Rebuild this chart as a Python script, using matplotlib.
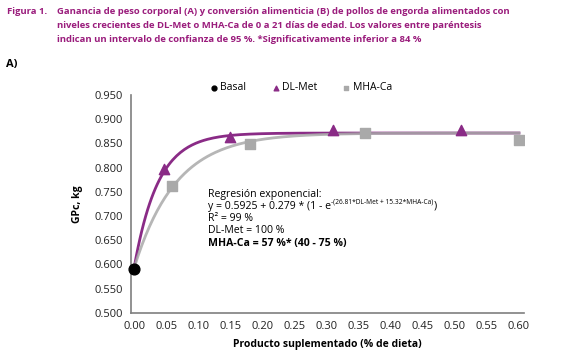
import numpy as np
import matplotlib.pyplot as plt

plt.rcParams['font.family'] = ['Open Sans', 'DejaVu Sans']

# observed points
basal_x = [0.0]
basal_y = [0.590]
dlmet_x = [0.046, 0.15, 0.31, 0.51]
dlmet_y = [0.797, 0.863, 0.878, 0.878]
mha_x = [0.059, 0.18, 0.36, 0.60]
mha_y = [0.762, 0.849, 0.872, 0.857]

# regression shown on the chart
intercept = 0.5925
plateau = 0.279
rate_dlmet = 26.81
rate_mha = 15.32

purple = '#8A2B86'
grey = '#A9A9A9'
title_col = '#9A1C7C'

fig = plt.figure(figsize=(5.74, 3.60), dpi=100)
ax = fig.add_axes([0.228, 0.131, 0.685, 0.605])

xs = np.linspace(0, 0.60, 200)
ax.plot(xs, intercept + plateau * (1 - np.exp(-rate_dlmet * xs)), color=purple, lw=2.0, zorder=2)
ax.plot(xs, intercept + plateau * (1 - np.exp(-rate_mha * xs)), color=grey, lw=2.0, alpha=0.85, zorder=3)

ax.scatter(dlmet_x, dlmet_y, marker='^', s=55, color=purple, zorder=4, label='DL-Met')
ax.scatter(mha_x, mha_y, marker='s', s=50, color=grey, zorder=4, label='MHA-Ca')
ax.scatter(basal_x, basal_y, marker='o', s=60, color='black', zorder=5, label='Basal', clip_on=False)

ax.set_xlim(-0.005, 0.608)
ax.set_ylim(0.5, 0.95)
ax.set_xticks(np.arange(0, 0.601, 0.05))
ax.set_xticklabels([f'{v:.2f}' for v in np.arange(0, 0.601, 0.05)])
ax.set_yticks(np.arange(0.5, 0.951, 0.05))
ax.set_yticklabels([f'{v:.3f}' for v in np.arange(0.5, 0.951, 0.05)])
ax.tick_params(length=0, labelsize=8, colors='#222222', pad=6)
for s in ['top', 'right']:
    ax.spines[s].set_visible(False)
for s in ['left', 'bottom']:
    ax.spines[s].set_color('#7F7F7F')
    ax.spines[s].set_linewidth(1.2)
ax.set_xlabel('Producto suplementado (% de dieta)', fontsize=7.5, fontweight='bold', labelpad=5)
ax.set_ylabel('GPc, kg', fontsize=7.5, fontweight='bold', labelpad=8)

handles, labels = ax.get_legend_handles_labels()
order = [2, 0, 1]
leg = fig.legend([handles[i] for i in order], [labels[i] for i in order], ncol=3,
                 loc='center left', bbox_to_anchor=(209 / 574, 1 - 88 / 360), frameon=False,
                 fontsize=7.5, handlelength=1.0, handletextpad=0.1, columnspacing=2.3,
                 markerscale=0.45, borderpad=0, borderaxespad=0)

# regression text
tx, ty = 208 / 574, 1 - 194 / 360
lh = 12.3 / 360
fs = 7.6
fig.text(tx, ty, 'Regresión exponencial:', fontsize=fs, va='center')
t1 = fig.text(tx, ty - lh, 'y = 0.5925 + 0.279 * (1 - e', fontsize=fs, va='center')
t2 = ax.annotate('-(26.81*DL-Met + 15.32*MHA-Ca)', xy=(1.0, 0.55), xycoords=t1,
                 fontsize=4.8, va='bottom', ha='left', annotation_clip=False)
ax.annotate(')', xy=(1.0, 0.5), xycoords=(t2, t1), fontsize=fs, va='center', ha='left',
            annotation_clip=False)
fig.text(tx, ty - 2 * lh, 'R² = 99 %', fontsize=fs, va='center')
fig.text(tx, ty - 3 * lh, 'DL-Met = 100 %', fontsize=fs, va='center')
fig.text(tx, ty - 4 * lh, 'MHA-Ca = 57 %* (40 - 75 %)', fontsize=fs, va='center', fontweight='bold')

# caption
fig.text(7 / 574, 1 - 12 / 360, 'Figura 1.', fontsize=6.8, fontweight='bold', color=title_col, va='center')
caption = ['Ganancia de peso corporal (A) y conversión alimenticia (B) de pollos de engorda alimentados con',
           'niveles crecientes de DL-Met o MHA-Ca de 0 a 21 días de edad. Los valores entre paréntesis',
           'indican un intervalo de confianza de 95 %. *Significativamente inferior a 84 %']
for i, line in enumerate(caption):
    fig.text(57 / 574, 1 - (12 + 13.5 * i) / 360, line, fontsize=6.8, fontweight='bold',
             color=title_col, va='center')
fig.text(6 / 574, 1 - 65 / 360, 'A)', fontsize=8, fontweight='bold', va='center')

fig.savefig('out.png', dpi=100)
